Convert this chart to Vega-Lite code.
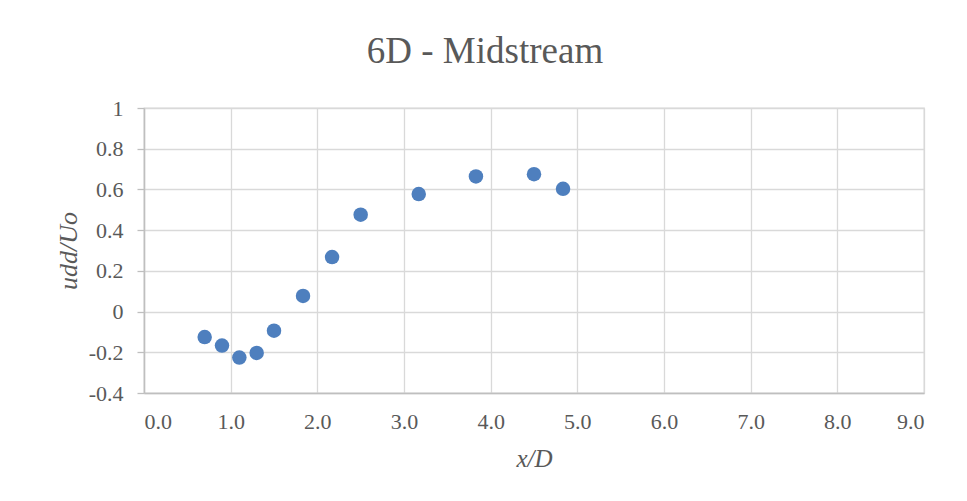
{
  "$schema": "https://vega.github.io/schema/vega-lite/v6.json",
  "autosize": "none",
  "width": 780,
  "height": 285,
  "padding": {"left": 144, "top": 108, "right": 43, "bottom": 108},
  "background": "white",
  "title": {
    "text": "6D - Midstream",
    "font": "Liberation Serif",
    "fontSize": 37,
    "fontWeight": "normal",
    "color": "#595959",
    "anchor": "middle",
    "dx": -49,
    "offset": 26
  },
  "data": {
    "values": [
      {"xD": 0.70, "u": -0.125},
      {"xD": 0.90, "u": -0.167},
      {"xD": 1.10, "u": -0.226},
      {"xD": 1.30, "u": -0.203},
      {"xD": 1.50, "u": -0.094},
      {"xD": 1.835, "u": 0.077},
      {"xD": 2.17, "u": 0.268},
      {"xD": 2.50, "u": 0.476},
      {"xD": 3.17, "u": 0.577},
      {"xD": 3.83, "u": 0.664},
      {"xD": 4.50, "u": 0.675},
      {"xD": 4.835, "u": 0.603}
    ]
  },
  "mark": {"type": "circle", "size": 210, "color": "#4E7FBE", "opacity": 1},
  "encoding": {
    "x": {
      "field": "xD",
      "type": "quantitative",
      "scale": {"domain": [0, 9], "nice": false, "zero": false},
      "axis": {
        "title": "x/D",
        "values": [0, 1, 2, 3, 4, 5, 6, 7, 8, 9],
        "format": ".1f",
        "ticks": false,
        "labelPadding": 18,
        "labelFont": "Liberation Serif",
        "labelFontSize": 22,
        "labelColor": "#595959",
        "titleFont": "Liberation Serif",
        "titleFontStyle": "italic",
        "titleFontWeight": "normal",
        "titleFontSize": 25,
        "titleColor": "#595959",
        "titlePadding": 14,
        "domainColor": "#BFBFBF",
        "domainWidth": 1.5,
        "gridColor": "#D9D9D9",
        "gridWidth": 1.3
      }
    },
    "y": {
      "field": "u",
      "type": "quantitative",
      "scale": {"domain": [-0.4, 1], "nice": false, "zero": false},
      "axis": {
        "title": "udd/Uo",
        "values": [-0.4, -0.2, 0, 0.2, 0.4, 0.6, 0.8, 1],
        "labelExpr": "datum.value < 0 ? '-' + format(-datum.value, '.1~f') : format(datum.value, '.1~f')",
        "tickSize": 7,
        "tickColor": "#BFBFBF",
        "tickWidth": 1.3,
        "labelPadding": 14,
        "labelFont": "Liberation Serif",
        "labelFontSize": 22,
        "labelColor": "#595959",
        "titleFont": "Liberation Serif",
        "titleFontStyle": "italic",
        "titleFontWeight": "normal",
        "titleFontSize": 26,
        "titleColor": "#595959",
        "titlePadding": 7,
        "domainColor": "#BFBFBF",
        "domainWidth": 1.5,
        "gridColor": "#D9D9D9",
        "gridWidth": 1.3
      }
    }
  },
  "config": {
    "view": {"stroke": "#D9D9D9", "strokeWidth": 1.3}
  }
}
